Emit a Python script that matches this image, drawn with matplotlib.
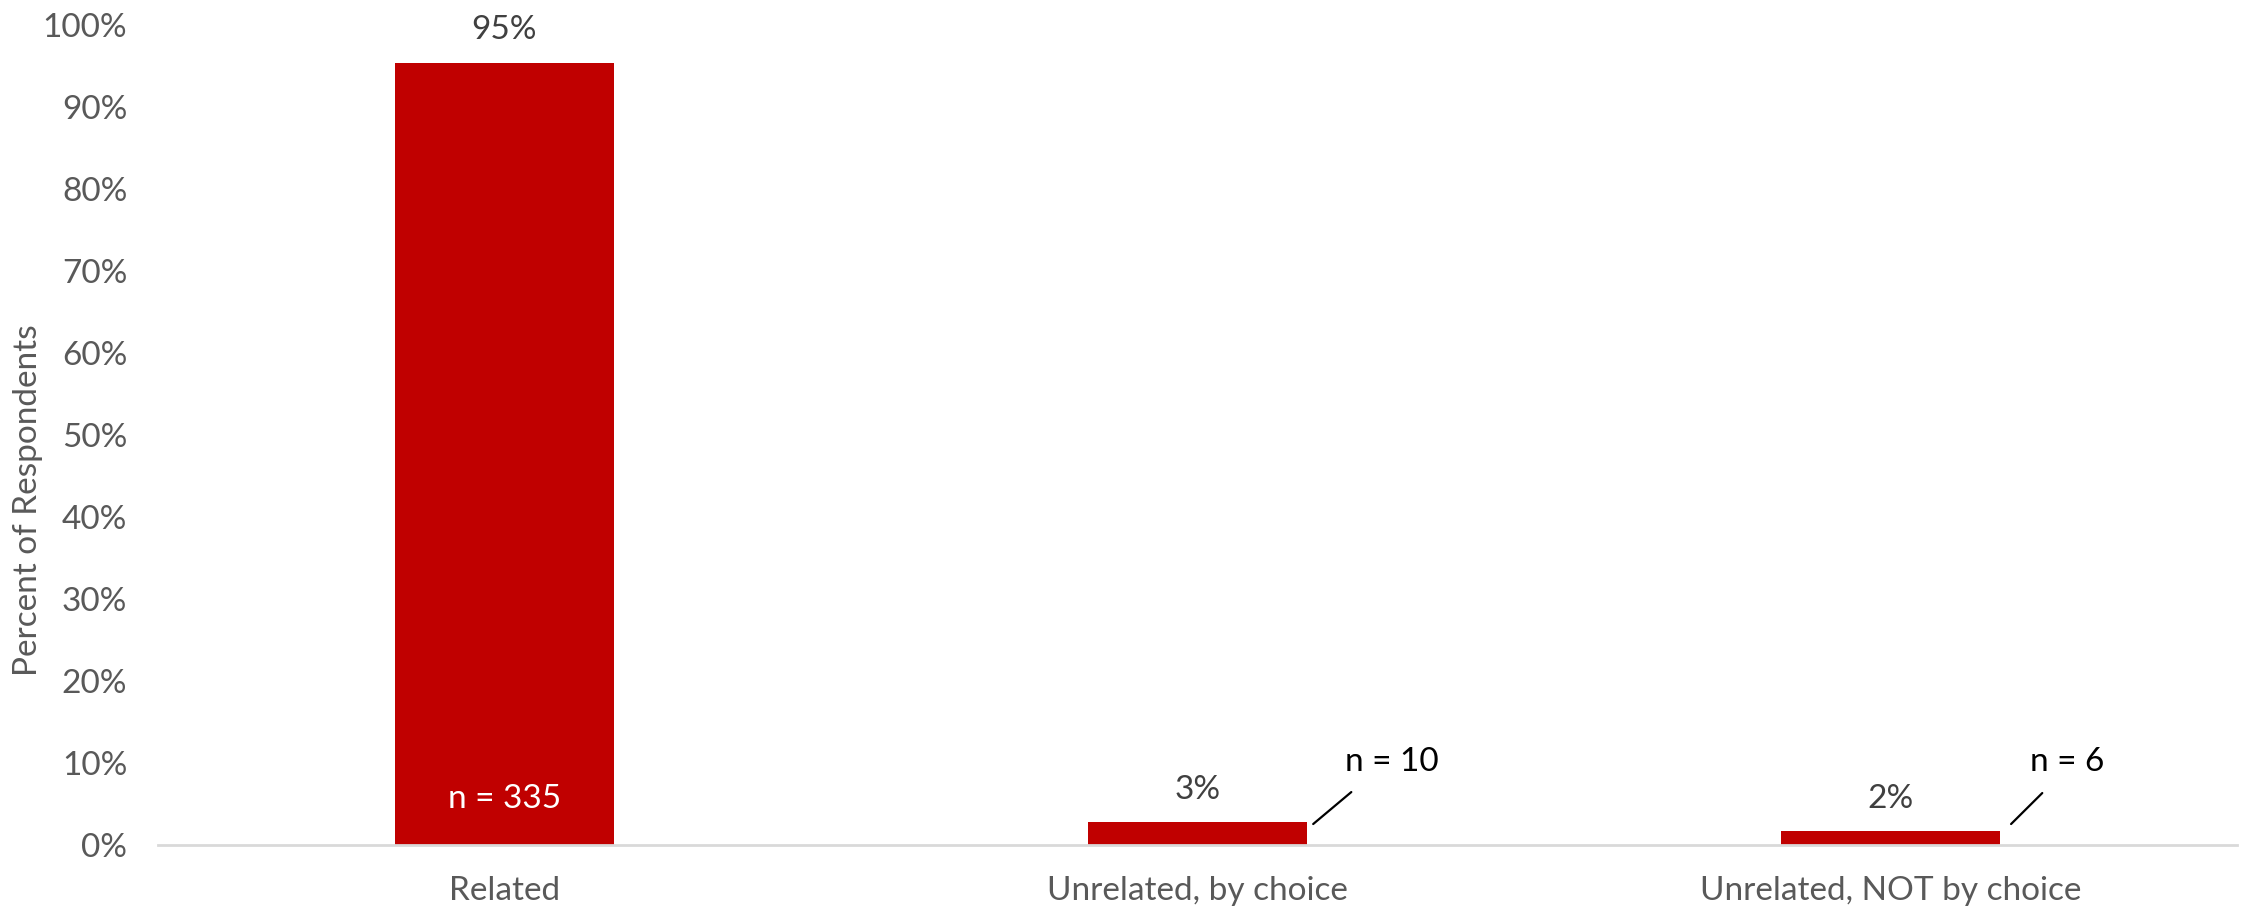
import matplotlib
matplotlib.use("Agg")
import matplotlib.pyplot as plt
from matplotlib.ticker import FuncFormatter

categories = ["Related", "Unrelated, by choice", "Unrelated, NOT by choice"]
values = [95.4, 2.8, 1.7]
value_labels = ["95%", "3%", "2%"]
n_labels = ["n = 335", "n = 10", "n = 6"]
yticks = list(range(0, 101, 10))

plt.rcParams['font.family'] = ['Lato', 'DejaVu Sans']

fig = plt.figure(figsize=(11.23, 4.55), dpi=200)
ax = fig.add_axes([0.0703, 0.0714, 0.9257, 0.9011])

x = list(range(len(categories)))
bars = ax.bar(x, values, width=0.316, color="#C00000", zorder=2)

ax.set_xlim(-0.5, 2.5)
ax.set_ylim(0, 100)
ax.set_yticks(yticks)
ax.yaxis.set_major_formatter(FuncFormatter(lambda v, p: f"{int(v)}%"))
ax.set_xticks(x)
ax.set_xticklabels(categories)

for s in ["top", "right", "left"]:
    ax.spines[s].set_visible(False)
ax.spines["bottom"].set_color("#D9D9D9")
ax.spines["bottom"].set_linewidth(1.0)
ax.tick_params(axis="both", length=0, labelsize=12, colors="#595959")
ax.tick_params(axis="x", pad=11)
ax.tick_params(axis="y", pad=11)

ax.set_ylabel("Percent of Respondents", fontsize=12, color="#595959")
ax.yaxis.set_label_coords(-0.0555, 0.42)

for xi, v, lab in zip(x, values, value_labels):
    ax.annotate(lab, xy=(xi, v), xytext=(0, 11.7), textcoords="offset points",
                ha="center", va="center", fontsize=12, color="#404040")

# n label inside first bar
ax.text(x[0], 5.6, n_labels[0], ha="center", va="center", fontsize=12, color="white")

# leader-lined n labels
leader = [
    ((1.167, 2.56), (1.222, 6.46), (1.28, 10.1)),
    ((2.174, 2.56), (2.219, 6.34), (2.255, 10.1)),
]
for (start, end, txt), lab in zip(leader, n_labels[1:]):
    ax.annotate("", xy=start, xytext=end,
                arrowprops=dict(arrowstyle="-", color="black", lw=0.8,
                                shrinkA=0, shrinkB=0))
    ax.text(txt[0], txt[1], lab, ha="center", va="center", fontsize=12, color="black")

fig.savefig("out.png", dpi=200)
